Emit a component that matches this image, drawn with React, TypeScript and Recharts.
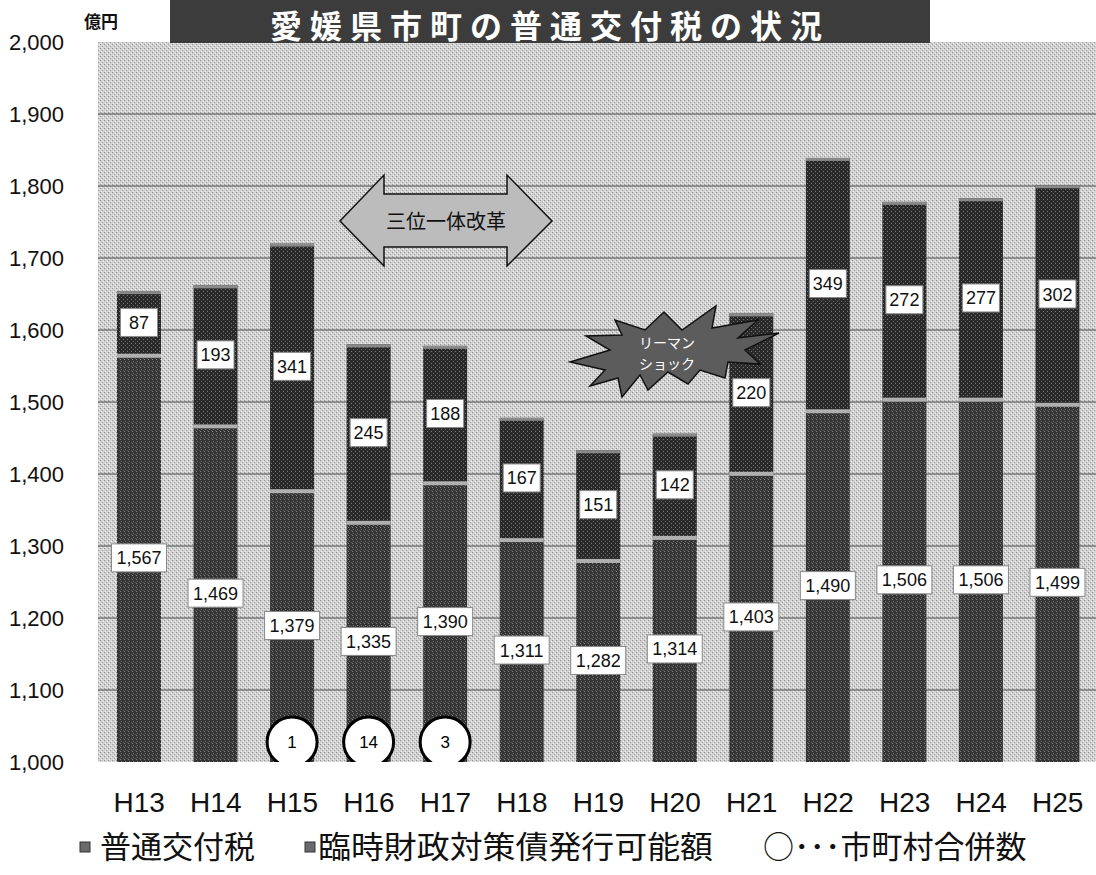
import React from 'react';
import { ComposedChart, Bar, XAxis, YAxis, CartesianGrid, LabelList } from 'recharts';

// 年度 (平成)
const years = ['H13', 'H14', 'H15', 'H16', 'H17', 'H18', 'H19', 'H20', 'H21', 'H22', 'H23', 'H24', 'H25'];
// 普通交付税 (億円)
const futsuKofuzei = [1567, 1469, 1379, 1335, 1390, 1311, 1282, 1314, 1403, 1490, 1506, 1506, 1499];
// 臨時財政対策債発行可能額 (億円)
const rinjiZaiseiTaisakusai = [87, 193, 341, 245, 188, 167, 151, 142, 220, 349, 272, 277, 302];
// 市町村合併数
const gappeiCount = [0, 0, 1, 14, 3, 0, 0, 0, 0, 0, 0, 0, 0];
const yTicks = [1000, 1100, 1200, 1300, 1400, 1500, 1600, 1700, 1800, 1900, 2000];
const gridValues = [1100, 1200, 1300, 1400, 1500, 1600, 1700, 1800, 1900];

const data = years.map((year, i) => ({
  year,
  futsu: futsuKofuzei[i],
  rinji: rinjiZaiseiTaisakusai[i],
  gappei: gappeiCount[i],
}));

const JP = "'Noto Sans CJK JP', sans-serif";
const NUM = "'Liberation Sans', Arial, sans-serif";

const fmt = (v: number) => v.toLocaleString('en-US');

const BaseBar = (props: any) => {
  const { x, y, width, height, payload } = props;
  if (height == null || isNaN(height)) return null;
  const cx = x + width / 2;
  return (
    <g>
      <rect x={x} y={y} width={width} height={height} fill="url(#barBase)" />
      <rect x={x} y={y} width={width} height={4} fill="#b0b0b0" />
      {payload.gappei > 0 && (
        <g>
          <circle cx={cx} cy={y + height - 20} r={25} fill="#fff" stroke="#000" strokeWidth={3} />
          <text x={cx} y={y + height - 20} dy={6} textAnchor="middle" fontSize={17} fontFamily={NUM} fill="#000">
            {payload.gappei}
          </text>
        </g>
      )}
    </g>
  );
};

const TopBar = (props: any) => {
  const { x, y, width, height } = props;
  if (height == null || isNaN(height)) return null;
  return (
    <g>
      <rect x={x} y={y} width={width} height={height} fill="url(#barTop)" />
      <rect x={x} y={y} width={width} height={3} fill="#8a8a8a" />
    </g>
  );
};

const BoxLabel = (props: any) => {
  const vb = props.viewBox && props.viewBox.width != null ? props.viewBox : props;
  const { x, y, width, height } = vb;
  let v = props.value;
  if (Array.isArray(v)) v = v[1] - v[0];
  if (v == null) return null;
  const cx = x + width / 2;
  const cy = y + height / 2;
  const txt = fmt(Number(v));
  const w = txt.length > 3 ? 55 : 37;
  return (
    <g>
      <rect x={cx - w / 2} y={cy - 14} width={w} height={28} fill="#fff" stroke="#888" strokeWidth={1} />
      <text x={cx} y={cy} dy={6.5} textAnchor="middle" fontSize={18} fontFamily={NUM} fill="#111">
        {txt}
      </text>
    </g>
  );
};

const YearTick = (props: any) => {
  const { x, y, payload } = props;
  return (
    <text x={x} y={y + 50} textAnchor="middle" fontSize={28} fontFamily={NUM} fill="#111">
      {payload.value}
    </text>
  );
};

// starburst for リーマンショック
const starPts = [
  [570, 362], [610, 350], [586, 336], [622, 335], [615, 320], [645, 330], [664, 312], [682, 330],
  [716, 306], [712, 328], [758, 320], [738, 338], [779, 333], [745, 350], [760, 364], [728, 362],
  [725, 378], [700, 370], [688, 384], [668, 372], [648, 390], [640, 375], [622, 397], [618, 378],
  [590, 386], [605, 370],
].map((p) => p.join(',')).join(' ');

const arrowPts = [
  [340, 221], [384, 175], [384, 194], [507, 194], [507, 175], [552, 221], [507, 266], [507, 247],
  [384, 247], [384, 266],
].map((p) => p.join(',')).join(' ');

export default function App() {
  return (
    <div style={{ position: 'absolute', left: 0, top: 0, width: 1096, height: 875, background: '#fff', overflow: 'hidden' }}>
      <ComposedChart
        width={1096}
        height={875}
        data={data}
        margin={{ top: 42, right: 0, left: 0, bottom: 53 }}
        barSize={44}
      >
        <defs>
          <pattern id="bgPat" width="4" height="4" patternUnits="userSpaceOnUse">
            <rect width="4" height="4" fill="#d0d0d0" />
            <rect x="0" y="0" width="1" height="1" fill="#959595" />
            <rect x="2" y="2" width="1" height="1" fill="#a0a0a0" />
            <rect x="1" y="3" width="1" height="1" fill="#f4f4f4" />
            <rect x="3" y="1" width="1" height="1" fill="#f4f4f4" />
          </pattern>
          <pattern id="barBase" width="4" height="4" patternUnits="userSpaceOnUse">
            <rect width="4" height="4" fill="#343434" />
            <rect x="1" y="1" width="1" height="1" fill="#777" />
            <rect x="3" y="2" width="1" height="1" fill="#5a5a5a" />
            <rect x="0" y="3" width="1" height="1" fill="#888" />
          </pattern>
          <pattern id="barTop" width="4" height="4" patternUnits="userSpaceOnUse">
            <rect width="4" height="4" fill="#2a2a2a" />
            <rect x="1" y="1" width="1" height="1" fill="#6a6a6a" />
            <rect x="3" y="3" width="1" height="1" fill="#7a7a7a" />
          </pattern>
        </defs>
        <CartesianGrid
          vertical={false}
          stroke="#4a4a4a"
          strokeWidth={1}
          fill="url(#bgPat)"
          horizontalValues={gridValues}
        />
        <XAxis
          dataKey="year"
          axisLine={false}
          tickLine={false}
          tickSize={0}
          tickMargin={0}
          height={60}
          padding={{ left: 3, right: 0 }}
          tick={<YearTick />}
          interval={0}
        />
        <YAxis
          domain={[1000, 2000]}
          ticks={yTicks}
          allowDataOverflow
          width={98}
          axisLine={false}
          tickLine={false}
          tickSize={0}
          tickMargin={34}
          tickFormatter={fmt}
          tick={{ fontSize: 22, fill: '#111', fontFamily: NUM }}
        />
        <Bar dataKey="futsu" stackId="a" shape={<BaseBar />} isAnimationActive={false}>
          <LabelList dataKey="futsu" content={<BoxLabel />} />
        </Bar>
        <Bar dataKey="rinji" stackId="a" shape={<TopBar />} isAnimationActive={false}>
          <LabelList dataKey="rinji" content={<BoxLabel />} />
        </Bar>
      </ComposedChart>

      <svg width={1096} height={875} style={{ position: 'absolute', left: 0, top: 0, pointerEvents: 'none' }}>
        {/* title */}
        <rect x={170} y={0} width={760} height={43} fill="#3c3c3c" />
        <text x={550} y={38} textAnchor="middle" fontSize={32} fontWeight={700} fontFamily={JP} fill="#fff" letterSpacing={8}>
          愛媛県市町の普通交付税の状況
        </text>

        <text x={84} y={28} fontSize={17} fontWeight={700} fontFamily={JP} fill="#111">億円</text>

        {/* 三位一体改革 */}
        <polygon points={arrowPts} fill="#bcbcbc" stroke="#111" strokeWidth={1.5} />
        <text x={446} y={229} textAnchor="middle" fontSize={20} fontFamily={JP} fill="#111">三位一体改革</text>

        {/* リーマンショック */}
        <polygon points={starPts} fill="#5c5c5c" stroke="#111" strokeWidth={1.5} />
        <text x={667} y={348} textAnchor="middle" fontSize={14} fontFamily={JP} fill="#fff">リーマン</text>
        <text x={667} y={369} textAnchor="middle" fontSize={14} fontFamily={JP} fill="#fff">ショック</text>

        {/* legend */}
        <rect x={80} y={842} width={10} height={10} fill="#6a6a6a" stroke="#333" strokeWidth={1} />
        <text x={100} y={858} fontSize={31} fontFamily={JP} fill="#111">普通交付税</text>
        <rect x={305} y={842} width={10} height={10} fill="#6a6a6a" stroke="#333" strokeWidth={1} />
        <text x={318} y={858} fontSize={31} fontFamily={JP} fill="#111" textLength={395} lengthAdjust="spacingAndGlyphs">
          臨時財政対策債発行可能額
        </text>
        <text x={763} y={858} fontSize={31} fontFamily={JP} fill="#111">○･･･市町村合併数</text>
      </svg>
    </div>
  );
}
